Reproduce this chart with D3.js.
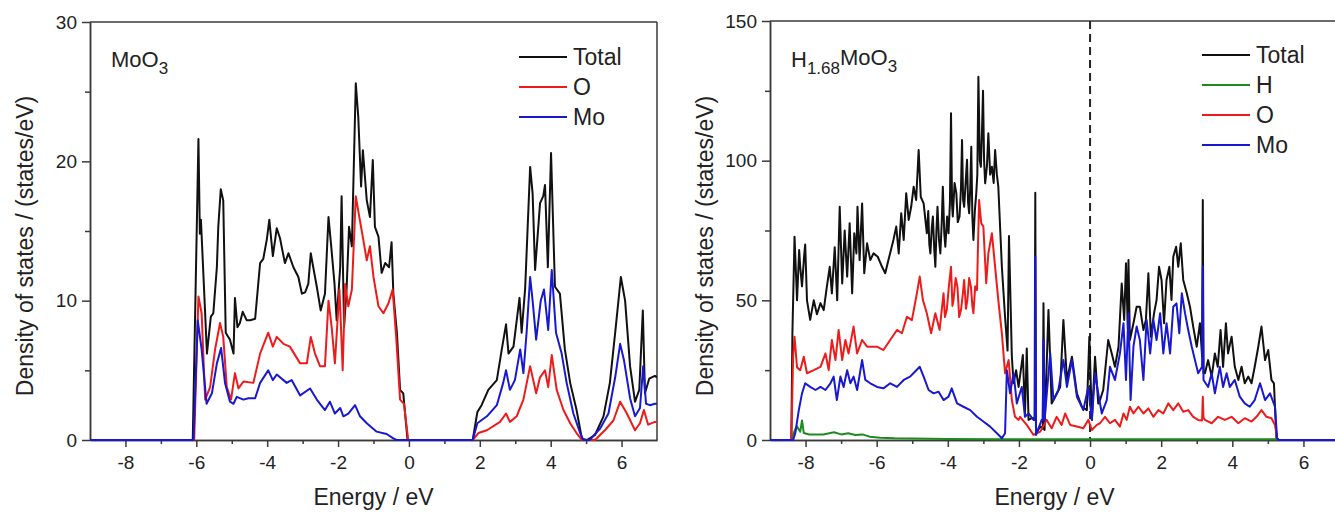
<!DOCTYPE html>
<html>
<head>
<meta charset="utf-8">
<script src="https://cdn.jsdelivr.net/npm/d3@7"></script>
<style>
  body { margin: 0; background: #fff; }
  svg { display: block; font-family: "Liberation Sans", Arial, sans-serif; }
  .axis path, .axis line { stroke: #3a3a3a; stroke-width: 1.5; }
  .axis text { fill: #222; font-size: 19px; font-family: "Liberation Sans", Arial, sans-serif; }
</style>
</head>
<body>
<svg id="chart" width="1335" height="514"></svg>
<script>
// ---- data (energy in eV, DOS in states/eV) ----
var xTicks = [-8, -6, -4, -2, 0, 2, 4, 6];
var xMinorTicks = [-7, -5, -3, -1, 1, 3, 5];
var leftYTicks = [0, 10, 20, 30];
var leftYMinor = [5, 15, 25];
var rightYTicks = [0, 50, 100, 150];
var rightYMinor = [25, 75, 125];

var leftLegend = ["Total", "O", "Mo"];
var rightLegend = ["Total", "H", "O", "Mo"];

var moo3Total = [[-9,0],[-6.1,0],[-5.94,21.6],[-5.9,14.8],[-5.87,15.8],[-5.82,13],[-5.7,6.2],[-5.59,8.85],[-5.52,9.1],[-5.42,12.4],[-5.38,15.3],[-5.31,18.0],[-5.24,17.2],[-5.17,7.7],[-5.05,7.2],[-4.95,6.2],[-4.91,10.2],[-4.84,8.1],[-4.77,8.4],[-4.69,9.2],[-4.58,8.6],[-4.48,8.6],[-4.34,8.7],[-4.2,12.7],[-4.11,13.0],[-4.01,14.4],[-3.94,15.8],[-3.84,13.2],[-3.73,15.2],[-3.64,14.5],[-3.5,12.7],[-3.4,13.4],[-3.26,12.4],[-3.12,11.7],[-3.02,10.5],[-2.93,10.6],[-2.84,11.2],[-2.77,13.4],[-2.7,12.4],[-2.6,11.0],[-2.49,9.3],[-2.37,10.5],[-2.27,16.0],[-2.2,14.1],[-2.1,11.2],[-2.04,8.6],[-1.94,12.4],[-1.9,17.5],[-1.83,8.1],[-1.76,10.8],[-1.69,15.3],[-1.61,13.9],[-1.5,25.6],[-1.43,23.2],[-1.35,18.2],[-1.3,20.8],[-1.19,17.2],[-1.1,16.0],[-1.02,20.1],[-0.96,15.3],[-0.86,14.6],[-0.77,12.0],[-0.67,12.7],[-0.56,12.4],[-0.49,14.2],[-0.44,10.5],[-0.34,7.7],[-0.25,3.6],[-0.16,3.35],[-0.04,0],[1.8,0],[1.93,2.0],[2.05,2.5],[2.24,3.6],[2.48,4.3],[2.62,6.5],[2.74,8.3],[2.81,6.2],[2.95,6.7],[3.12,10.2],[3.18,7.7],[3.28,10.9],[3.42,19.6],[3.49,17.7],[3.56,12.2],[3.7,17.0],[3.79,17.5],[3.84,18.3],[3.92,12.4],[4.01,20.6],[4.12,11.0],[4.26,10.5],[4.4,6.5],[4.55,4.1],[4.73,2.15],[4.88,0.1],[5.02,0],[5.25,0.36],[5.49,1.7],[5.67,4.1],[5.82,7.7],[5.98,11.7],[6.1,10.0],[6.24,5.3],[6.38,2.75],[6.5,3.6],[6.6,9.3],[6.66,3.35],[6.78,4.4],[6.94,4.6],[7,4.5]];

var moo3O = [[-9,0],[-6.06,0],[-5.94,10.3],[-5.85,9.1],[-5.75,2.9],[-5.61,3.8],[-5.47,6.5],[-5.33,8.4],[-5.24,7.4],[-5.14,3.8],[-5.02,2.9],[-4.91,4.8],[-4.81,3.7],[-4.67,4.2],[-4.39,4.1],[-4.2,6.2],[-3.97,7.7],[-3.84,6.7],[-3.73,7.4],[-3.54,6.9],[-3.36,6.7],[-3.07,5.5],[-2.88,5.5],[-2.77,7.4],[-2.65,6.2],[-2.51,5.3],[-2.37,5.3],[-2.27,10.0],[-2.18,8.1],[-2.09,5.5],[-1.96,10.8],[-1.87,5.0],[-1.8,11.2],[-1.71,9.6],[-1.61,10.8],[-1.5,17.5],[-1.4,16.0],[-1.29,14.4],[-1.19,12.9],[-1.1,13.9],[-1.0,11.7],[-0.86,9.6],[-0.72,9.1],[-0.58,9.8],[-0.46,10.8],[-0.36,7.4],[-0.25,2.9],[-0.14,2.6],[-0.02,0],[1.8,0],[1.96,0.5],[2.2,0.7],[2.57,1.3],[2.74,1.9],[2.85,1.3],[3.04,1.7],[3.23,2.9],[3.42,5.3],[3.59,3.35],[3.7,4.5],[3.84,5.0],[3.93,3.8],[4.03,6.1],[4.17,3.6],[4.36,2.15],[4.55,1.2],[4.73,0.5],[4.88,0],[5.25,0],[5.53,0.7],[5.77,1.4],[5.96,2.75],[6.15,1.9],[6.38,0.7],[6.52,1.2],[6.63,2.15],[6.75,1.1],[6.94,1.3],[7,1.3]];

var moo3Mo = [[-9,0],[-6.08,0],[-5.96,8.6],[-5.85,6.5],[-5.71,2.6],[-5.56,3.35],[-5.42,5.5],[-5.3,6.6],[-5.19,4.1],[-5.05,2.75],[-4.95,2.6],[-4.86,3.1],[-4.67,2.9],[-4.53,3.0],[-4.34,3.0],[-4.2,4.1],[-3.97,5.0],[-3.84,4.3],[-3.73,4.7],[-3.45,4.1],[-3.31,4.3],[-3.07,3.2],[-2.79,3.7],[-2.6,2.9],[-2.37,2.15],[-2.23,2.75],[-2.09,1.9],[-1.94,2.3],[-1.85,1.7],[-1.71,1.9],[-1.52,2.5],[-1.38,1.7],[-1.19,1.2],[-0.91,0.6],[-0.63,0.43],[-0.44,0.12],[-0.35,0],[1.8,0],[1.93,1.2],[2.2,1.7],[2.48,2.5],[2.66,4.1],[2.74,5.0],[2.85,3.6],[2.99,4.3],[3.14,6.5],[3.23,4.8],[3.32,7.7],[3.42,11.7],[3.49,10.0],[3.59,7.2],[3.72,10.0],[3.81,10.8],[3.93,7.9],[4.03,12.2],[4.15,7.7],[4.31,6.2],[4.45,4.1],[4.64,1.9],[4.83,0.5],[4.92,0],[5.1,0],[5.4,0.84],[5.63,1.9],[5.82,4.5],[5.96,6.9],[6.07,5.7],[6.24,3.0],[6.38,1.7],[6.52,2.3],[6.61,5.3],[6.69,2.6],[6.8,2.5],[6.94,2.6],[7,2.6]];

var hmoTotal = [[-9,0],[-8.4,0],[-8.37,38],[-8.31,72.8],[-8.24,50],[-8.18,68],[-8.15,62],[-8.1,55],[-8.04,66],[-8.01,70],[-7.96,50],[-7.87,43],[-7.77,50],[-7.68,45],[-7.58,49],[-7.49,46.5],[-7.4,55],[-7.32,62],[-7.26,52.5],[-7.18,69],[-7.11,50],[-7.04,83.5],[-6.97,56],[-6.9,75],[-6.83,58.5],[-6.76,77.6],[-6.69,52.5],[-6.63,74],[-6.57,66.8],[-6.54,83.5],[-6.48,64.4],[-6.41,84.7],[-6.35,59.7],[-6.27,70.4],[-6.18,64.4],[-6.09,66.8],[-5.97,65.6],[-5.85,62],[-5.76,59.7],[-5.67,64.4],[-5.53,71.6],[-5.45,76.4],[-5.38,66.8],[-5.31,81.2],[-5.24,71.6],[-5.17,88.3],[-5.1,78.8],[-5.03,83.5],[-4.96,90.7],[-4.89,85.9],[-4.82,103.8],[-4.76,87],[-4.68,84.7],[-4.59,74],[-4.55,82],[-4.52,70],[-4.49,66.8],[-4.45,76],[-4.42,80],[-4.38,68],[-4.35,62],[-4.32,75],[-4.29,83.5],[-4.25,72],[-4.21,66.8],[-4.17,78],[-4.14,90.7],[-4.1,74],[-4.07,69.2],[-4.02,80],[-3.98,74],[-3.94,85],[-3.91,117],[-3.88,84],[-3.86,80],[-3.81,92],[-3.76,88.3],[-3.72,78],[-3.67,80],[-3.63,90],[-3.6,107.4],[-3.57,86],[-3.54,83.5],[-3.5,92],[-3.46,100.3],[-3.43,85],[-3.4,81.2],[-3.37,90],[-3.34,105],[-3.31,80],[-3.28,71.6],[-3.24,82],[-3.2,88.3],[-3.17,95],[-3.14,130],[-3.1,100],[-3.07,97.8],[-3.04,110],[-3.01,125],[-2.98,100],[-2.95,91.9],[-2.9,98],[-2.86,109.8],[-2.81,95],[-2.76,97.8],[-2.71,92],[-2.67,103.8],[-2.62,95],[-2.58,90.7],[-2.48,62],[-2.39,44],[-2.32,32],[-2.28,73],[-2.2,30],[-2.15,20.3],[-2.08,25],[-2.01,19],[-1.89,30.4],[-1.83,9.5],[-1.78,32.8],[-1.73,7.2],[-1.64,7.8],[-1.56,7.8],[-1.54,88.5],[-1.52,2.4],[-1.4,4.8],[-1.33,4],[-1.31,49],[-1.28,3.6],[-1.17,46.5],[-1.08,13.1],[-0.98,15.5],[-0.84,19],[-0.75,43],[-0.65,21.5],[-0.51,29.8],[-0.37,16.7],[-0.23,11.9],[-0.09,10.7],[-0.02,37],[0.05,7.2],[0.14,29.8],[0.23,13.1],[0.28,14.3],[0.37,17.9],[0.51,35.8],[0.61,31],[0.7,26.2],[0.8,33.4],[0.89,56],[0.96,43],[1.01,63.3],[1.06,40],[1.08,64.4],[1.12,35.8],[1.22,41.8],[1.31,47.7],[1.4,47.7],[1.5,39.4],[1.57,43],[1.64,59.7],[1.71,37],[1.8,45.4],[1.87,50.1],[1.94,62],[2.01,57.3],[2.08,41.8],[2.15,57.3],[2.23,62],[2.29,50.1],[2.34,65.6],[2.42,69.2],[2.48,62],[2.55,70.4],[2.62,57.3],[2.72,52.5],[2.81,47.7],[2.9,40.6],[3.0,33.4],[3.09,41.8],[3.15,30],[3.17,85.9],[3.19,24],[3.23,23.9],[3.32,28.6],[3.42,22.7],[3.51,31],[3.59,26.2],[3.67,39.4],[3.74,26.2],[3.82,41.8],[3.88,31],[3.98,37],[4.07,26.2],[4.17,21.5],[4.26,26.2],[4.35,20.3],[4.45,22.7],[4.54,20.3],[4.63,26.2],[4.73,33.4],[4.82,40.6],[4.92,28.6],[5.01,32.2],[5.1,21.5],[5.17,20.3],[5.24,0.6],[5.3,0],[7,0]];

var hmoH = [[-9,0],[-8.4,0],[-8.35,2],[-8.25,5],[-8.15,3],[-8.1,7],[-8.05,2.5],[-7.9,2],[-7.5,2],[-7.2,2.8],[-7.0,2],[-6.8,2.4],[-6.6,1.8],[-6.4,2],[-6.2,1.2],[-5.9,0.8],[-5.5,0.6],[-5.0,0.5],[-4.0,0.4],[-2.5,0.3],[0,0.3],[3,0.3],[5.25,0.3],[5.3,0],[7,0]];

var hmoO = [[-9,0],[-8.4,0],[-8.35,30],[-8.31,37],[-8.24,26],[-8.15,25],[-8.05,29.8],[-7.96,23.9],[-7.77,25],[-7.58,26.2],[-7.44,31],[-7.35,25],[-7.26,35.8],[-7.16,28.6],[-7.07,39.4],[-6.97,28.6],[-6.88,35.8],[-6.79,31],[-6.65,40.6],[-6.55,31],[-6.41,35.8],[-6.27,33.4],[-5.99,33.4],[-5.81,32.2],[-5.62,35.8],[-5.43,39.4],[-5.29,38.2],[-5.15,44.1],[-5.01,42.9],[-4.87,52.5],[-4.79,58.5],[-4.7,50.1],[-4.59,45.4],[-4.47,38.2],[-4.35,45.4],[-4.23,39.4],[-4.12,52.5],[-4.08,44],[-4.03,46.5],[-3.97,55],[-3.91,62],[-3.87,48],[-3.84,50.1],[-3.78,58],[-3.73,54.9],[-3.68,44],[-3.63,46.5],[-3.58,52],[-3.54,57.3],[-3.49,47],[-3.45,50.1],[-3.4,58],[-3.35,54.9],[-3.31,48],[-3.28,45.4],[-3.23,55],[-3.18,53.7],[-3.15,70],[-3.12,85.9],[-3.06,77.6],[-3.0,76.4],[-2.92,56.1],[-2.86,66.8],[-2.76,74],[-2.67,62],[-2.58,50.1],[-2.48,38.2],[-2.39,23.9],[-2.29,28.6],[-2.2,14.3],[-2.11,8.3],[-2.01,7.2],[-1.97,8.3],[-1.78,5.4],[-1.59,1.8],[-1.4,3],[-1.22,7.2],[-1.08,4.2],[-0.94,8.3],[-0.8,5.4],[-0.7,9.5],[-0.56,5.4],[-0.37,4.8],[-0.19,4.2],[-0.05,7.2],[0.05,3.6],[0.19,5.4],[0.28,6],[0.42,8.3],[0.56,6],[0.7,7.2],[0.84,4.8],[0.94,9.5],[1.03,7.2],[1.12,11.9],[1.22,9.5],[1.36,11.9],[1.5,9.5],[1.64,11.3],[1.78,8.3],[1.92,10.7],[2.06,9.5],[2.2,13.1],[2.34,10.7],[2.48,13.1],[2.62,10.1],[2.76,10.7],[2.9,8.3],[3.04,7.2],[3.15,7],[3.17,15.5],[3.19,8],[3.23,7.2],[3.42,6],[3.6,8.3],[3.79,7.2],[3.98,8.3],[4.17,6],[4.35,7.8],[4.54,6.6],[4.68,8.3],[4.82,10.7],[4.96,8.3],[5.1,7.8],[5.2,5.4],[5.26,0.6],[5.3,0],[7,0]];

var hmoMo = [[-9,0],[-8.35,0],[-8.29,2.4],[-8.19,10.7],[-8.1,16.7],[-8.01,20.3],[-7.87,19],[-7.72,17.9],[-7.58,19],[-7.44,17.9],[-7.3,20.3],[-7.21,22.7],[-7.12,14.3],[-7.02,22.7],[-6.93,19],[-6.83,25],[-6.74,20.3],[-6.65,22.7],[-6.55,17.9],[-6.41,28.6],[-6.32,21.5],[-6.18,20.3],[-5.99,19],[-5.81,18.5],[-5.62,20.3],[-5.43,19],[-5.24,21.5],[-5.06,22.7],[-4.92,24.5],[-4.79,26.2],[-4.68,22.7],[-4.54,17.9],[-4.4,16.7],[-4.26,17.3],[-4.12,14.3],[-3.98,15.5],[-3.89,18.5],[-3.74,13.1],[-3.56,11.9],[-3.37,10.7],[-3.18,8.3],[-3.0,6.6],[-2.81,4.8],[-2.62,2.4],[-2.48,0.6],[-2.39,2.4],[-2.34,25],[-2.25,16.7],[-2.15,23.9],[-2.06,13.1],[-1.92,19],[-1.83,8.3],[-1.73,9.5],[-1.59,7.2],[-1.55,7.2],[-1.54,65.6],[-1.52,1.8],[-1.36,7.2],[-1.33,7],[-1.31,35.8],[-1.28,7.2],[-1.12,31],[-1.03,14.3],[-0.89,17.9],[-0.75,28.6],[-0.65,19],[-0.51,28.6],[-0.37,15.5],[-0.19,10.7],[-0.05,19],[0.05,7.2],[0.14,23.9],[0.23,16.7],[0.33,9.5],[0.47,14.3],[0.56,26.2],[0.7,21.5],[0.84,31],[0.94,41.8],[1.01,21.5],[1.08,45.4],[1.14,14.3],[1.22,33.4],[1.31,40.6],[1.4,35.8],[1.5,21.5],[1.59,43],[1.69,31],[1.78,43],[1.87,35.8],[1.97,45.4],[2.06,31],[2.15,41.8],[2.25,31],[2.34,47.7],[2.43,48.9],[2.51,38.2],[2.58,52.5],[2.67,45.4],[2.76,39.4],[2.86,33.4],[2.95,28.6],[3.04,23.9],[3.15,26.2],[3.17,62],[3.19,21.5],[3.32,19],[3.42,23.9],[3.51,16.7],[3.65,26.2],[3.74,19],[3.84,23.9],[3.93,19],[4.07,21.5],[4.21,15.5],[4.35,13.1],[4.49,11.9],[4.63,14.3],[4.78,20.3],[4.92,14.3],[5.06,16.7],[5.2,11.9],[5.26,0.6],[5.3,0],[7,0]];

var colors = { "Total": "#111111", "H": "#1d8a1d", "O": "#ee1b1b", "Mo": "#1818d2" };

var svg = d3.select("#chart");

function drawPanel(p) {
  var g = svg.append("g").attr("class", "panel");

  var x = d3.scaleLinear().domain([-9, 7]).range([p.left, p.right]);
  var y = d3.scaleLinear().domain([0, p.yMax]).range([p.bottom, p.top]);

  var clipId = "clip-" + p.id;
  svg.append("clipPath").attr("id", clipId)
    .append("rect")
    .attr("x", p.left).attr("y", p.top)
    .attr("width", p.right - p.left).attr("height", p.bottom - p.top + 1);

  // frame top / right
  g.append("line").attr("x1", p.left).attr("x2", p.right).attr("y1", p.top).attr("y2", p.top)
    .attr("stroke", "#3a3a3a").attr("stroke-width", 1.5);
  g.append("line").attr("x1", p.right).attr("x2", p.right).attr("y1", p.top).attr("y2", p.bottom)
    .attr("stroke", "#3a3a3a").attr("stroke-width", 1.5);

  // plain hyphen minus like the original figure
  var fmt = function(d) { return String(d); };

  // axes
  var xAxis = d3.axisBottom(x).tickValues(xTicks).tickFormat(fmt).tickSize(7).tickPadding(9).tickSizeOuter(0);
  g.append("g").attr("class", "axis")
    .attr("transform", "translate(0," + p.bottom + ")")
    .call(xAxis);
  g.append("g").attr("class", "axis minor")
    .attr("transform", "translate(0," + p.bottom + ")")
    .call(d3.axisBottom(x).tickValues(xMinorTicks).tickSize(4).tickFormat("").tickSizeOuter(0));

  var yAxis = d3.axisLeft(y).tickValues(p.yTicks).tickFormat(fmt).tickSize(8).tickPadding(5).tickSizeOuter(0);
  g.append("g").attr("class", "axis")
    .attr("transform", "translate(" + p.left + ",0)")
    .call(yAxis);
  g.append("g").attr("class", "axis minor")
    .attr("transform", "translate(" + p.left + ",0)")
    .call(d3.axisLeft(y).tickValues(p.yMinor).tickSize(5).tickFormat("").tickSizeOuter(0));

  // Fermi level marker
  if (p.dashed) {
    g.append("line")
      .attr("x1", x(0)).attr("x2", x(0))
      .attr("y1", p.top).attr("y2", p.bottom)
      .attr("stroke", "#222").attr("stroke-width", 2)
      .attr("stroke-dasharray", "8,5");
  }

  // curves
  var line = d3.line()
    .x(function(d) { return x(d[0]); })
    .y(function(d) { return y(d[1]); });

  var curves = g.append("g").attr("clip-path", "url(#" + clipId + ")");
  p.series.forEach(function(s) {
    curves.append("path")
      .datum(s.data)
      .attr("fill", "none")
      .attr("stroke", colors[s.name])
      .attr("stroke-width", p.lineWidth)
      .attr("stroke-linejoin", "round")
      .attr("d", line);
  });

  // axis titles
  g.append("text")
    .attr("x", (p.left + p.right) / 2)
    .attr("y", 505)
    .attr("text-anchor", "middle")
    .attr("font-size", "23px")
    .attr("fill", "#222")
    .text("Energy / eV");

  g.append("text")
    .attr("transform", "translate(" + (p.left - 57) + "," + 246 + ") rotate(-90)")
    .attr("text-anchor", "middle")
    .attr("font-size", "23px")
    .attr("fill", "#222")
    .text("Density of states / (states/eV)");

  // compound label
  var t = g.append("text")
    .attr("x", p.left + 21)
    .attr("y", 67)
    .attr("font-size", "22px")
    .attr("fill", "#222");
  p.title.forEach(function(part) {
    var span = t.append("tspan").text(part.text);
    if (part.sub) {
      span.attr("font-size", "17px").attr("dy", 7);
    } else if (part.after) {
      span.attr("dy", -9);
    }
  });

  // legend
  var legend = g.selectAll(".legend")
    .data(p.legend)
    .enter()
    .append("g")
    .attr("class", "legend")
    .attr("transform", function(d, i) {
      return "translate(" + p.legendX + "," + (p.legendY + i * 30) + ")";
    });

  legend.append("line")
    .attr("x1", 0).attr("x2", 48)
    .attr("stroke", function(d) { return colors[d]; })
    .attr("stroke-width", 2);

  legend.append("text")
    .attr("x", 54)
    .attr("y", 8)
    .attr("font-size", "23px")
    .attr("fill", "#222")
    .text(function(d) { return d; });
}

drawPanel({
  id: "moo3", left: 90, right: 657, top: 22, bottom: 440, yMax: 30,
  yTicks: leftYTicks, yMinor: leftYMinor, dashed: false, lineWidth: 2,
  series: [{ name: "Total", data: moo3Total }, { name: "O", data: moo3O }, { name: "Mo", data: moo3Mo }],
  legend: leftLegend, legendX: 519, legendY: 57,
  title: [{ text: "MoO" }, { text: "3", sub: true }]
});

drawPanel({
  id: "hmoo3", left: 770, right: 1339, top: 21, bottom: 440, yMax: 150,
  yTicks: rightYTicks, yMinor: rightYMinor, dashed: true, lineWidth: 2,
  series: [{ name: "Total", data: hmoTotal }, { name: "H", data: hmoH }, { name: "O", data: hmoO }, { name: "Mo", data: hmoMo }],
  legend: rightLegend, legendX: 1202, legendY: 55,
  title: [{ text: "H" }, { text: "1.68", sub: true }, { text: "MoO", after: true }, { text: "3", sub: true }]
});
</script>
</body>
</html>
